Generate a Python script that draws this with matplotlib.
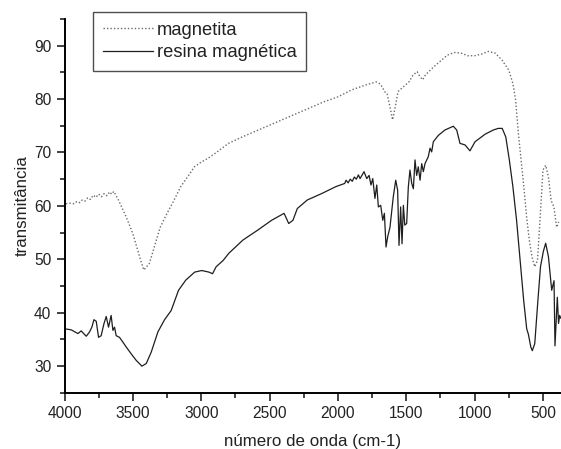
import matplotlib
matplotlib.use("Agg")
import matplotlib.pyplot as plt
from matplotlib.ticker import MultipleLocator

plt.rcParams['font.family'] = ['Liberation Sans', 'DejaVu Sans']

# magnetita (dotted)
wn_mag = [3990, 3960, 3930, 3910, 3890, 3870, 3850, 3830, 3810, 3790, 3770, 3750,
          3730, 3710, 3690, 3670, 3655, 3640, 3620, 3600, 3550, 3500, 3450, 3420,
          3380, 3350, 3300, 3250, 3200, 3150, 3100, 3050, 3000, 2950, 2900, 2800,
          2700, 2500, 2300, 2100, 2000, 1900, 1800, 1720, 1690, 1670, 1660, 1640,
          1620, 1600, 1580, 1560, 1520, 1480, 1450, 1420, 1400, 1380, 1360, 1300,
          1200, 1150, 1100, 1050, 1000, 950, 900, 850, 800, 750, 720, 700, 680,
          660, 640, 620, 600, 580, 560, 540, 520, 500, 480, 460, 440, 420, 400, 385]
t_mag = [60.4, 60.5, 60.4, 60.8, 60.6, 61.1, 60.9, 61.5, 61.2, 62.0, 61.6, 62.2,
         61.7, 62.3, 61.9, 62.6, 62.2, 62.7, 61.8, 60.8, 58.0, 54.8, 50.4, 48.0,
         49.2, 51.7, 56.0, 58.6, 61.0, 63.6, 65.4, 67.3, 68.2, 68.9, 69.8, 71.7,
         72.9, 75.1, 77.3, 79.5, 80.4, 81.7, 82.6, 83.2, 82.8, 82.0, 81.4, 81.0,
         78.6, 76.1, 78.6, 81.4, 82.3, 83.2, 84.5, 85.1, 84.2, 83.6, 84.5, 86.0,
         88.2, 88.7, 88.6, 88.1, 88.1, 88.4, 88.9, 88.6, 87.3, 85.4, 82.9, 79.8,
         73.6, 68.6, 63.6, 58.0, 53.6, 50.4, 48.6, 49.8, 58.0, 66.7, 67.6, 65.4,
         61.0, 59.8, 56.0, 57.0]

# resina magnetica (solid)
wn_res = [4000, 3951, 3902, 3878, 3841, 3817, 3800, 3785, 3768, 3751, 3732, 3712,
          3695, 3678, 3659, 3646, 3634, 3622, 3598, 3573, 3549, 3512, 3476, 3434,
          3402, 3366, 3317, 3268, 3220, 3166, 3113, 3048, 2996, 2943, 2917, 2891,
          2839, 2799, 2695, 2590, 2485, 2394, 2381, 2360, 2329, 2297, 2224, 2119,
          2015, 1950, 1940, 1925, 1910, 1895, 1880, 1865, 1850, 1838, 1809, 1789,
          1772, 1758, 1745, 1729, 1716, 1704, 1687, 1672, 1660, 1648, 1636, 1619,
          1595, 1577, 1563, 1553, 1541, 1531, 1521, 1511, 1497, 1485, 1473, 1460,
          1448, 1436, 1424, 1412, 1399, 1387, 1375, 1363, 1339, 1326, 1314, 1302,
          1265, 1217, 1156, 1131, 1107, 1070, 1034, 997, 924, 863, 827, 798, 772,
          746, 720, 693, 667, 641, 619, 607, 589, 578, 560, 537, 518, 497, 480,
          460, 436, 419, 412, 404, 395, 386, 378, 370]
t_res = [37.0, 36.8, 36.1, 36.6, 35.6, 36.4, 37.3, 38.7, 38.4, 35.4, 35.7, 37.9,
         39.3, 37.3, 39.5, 36.7, 37.3, 35.7, 35.4, 34.5, 33.6, 32.3, 31.1, 30.0,
         30.5, 32.6, 36.4, 38.7, 40.4, 44.2, 46.1, 47.6, 47.9, 47.6, 47.3, 48.6,
         49.8, 51.1, 53.6, 55.4, 57.3, 58.6, 57.9, 56.7, 57.3, 59.5, 61.1, 62.3,
         63.6, 64.2, 64.8, 64.3, 65.0, 64.6, 65.4, 65.0, 65.8, 65.1, 66.4, 65.1,
         65.7, 63.9, 65.1, 61.4, 63.9, 59.8, 60.1, 57.3, 58.6, 52.3, 54.2, 56.0,
         61.7, 64.8, 62.9, 52.6, 59.8, 52.9, 60.1, 56.4, 56.7, 63.5, 66.7, 64.2,
         63.2, 68.6, 65.7, 67.3, 64.8, 67.9, 66.4, 67.9, 69.2, 70.8, 70.1, 72.0,
         73.2, 74.2, 74.9, 74.2, 71.7, 71.4, 70.3, 72.0, 73.4, 74.2, 74.5, 74.5,
         72.9, 68.6, 63.6, 57.3, 49.8, 42.3, 37.0, 36.0, 33.6, 32.9, 34.2, 42.3,
         48.6, 51.5, 53.0, 50.5, 44.2, 46.0, 33.8, 38.0, 42.9, 38.0, 39.5, 39.0]

fig = plt.figure(figsize=(5.61, 4.49), dpi=100)
ax = fig.add_axes([0.115, 0.125, 0.885, 0.833])

ax.plot(wn_mag, t_mag, color='#6a6a6a', lw=1.0, linestyle=(0, (1, 1.5)), label='magnetita')
ax.plot(wn_res, t_res, color='#1e1e1e', lw=0.9, label='resina magnética')

ax.set_xlim(4000, 368)
ax.set_ylim(25, 95)
ax.xaxis.set_major_locator(MultipleLocator(500))
ax.xaxis.set_minor_locator(MultipleLocator(250))
ax.yaxis.set_minor_locator(MultipleLocator(5))
ax.set_yticks(range(30, 91, 10))
ax.tick_params(which='both', direction='out', labelsize=11.2, width=1.2, colors='#222222')
ax.tick_params(which='major', length=6)
ax.tick_params(which='minor', length=3.5)
ax.spines['top'].set_visible(False)
ax.spines['right'].set_visible(False)
ax.spines['left'].set_linewidth(1.4)
ax.spines['bottom'].set_linewidth(1.4)

ax.set_xlabel('número de onda (cm-1)', fontsize=12.2, color='#222222', labelpad=9)
ax.set_ylabel('transmitância', fontsize=12.2, color='#222222', labelpad=3)

leg = ax.legend(loc='upper left', bbox_to_anchor=(0.058, 1.019), fontsize=13.2,
                frameon=True, fancybox=False, edgecolor='#222222', handlelength=2.7,
                borderpad=0.55, labelspacing=0.3, handletextpad=0.2,
                borderaxespad=0.0)
leg.get_frame().set_linewidth(1.0)
for t in leg.get_texts():
    t.set_color('#222222')

fig.savefig('out.png', dpi=100)
